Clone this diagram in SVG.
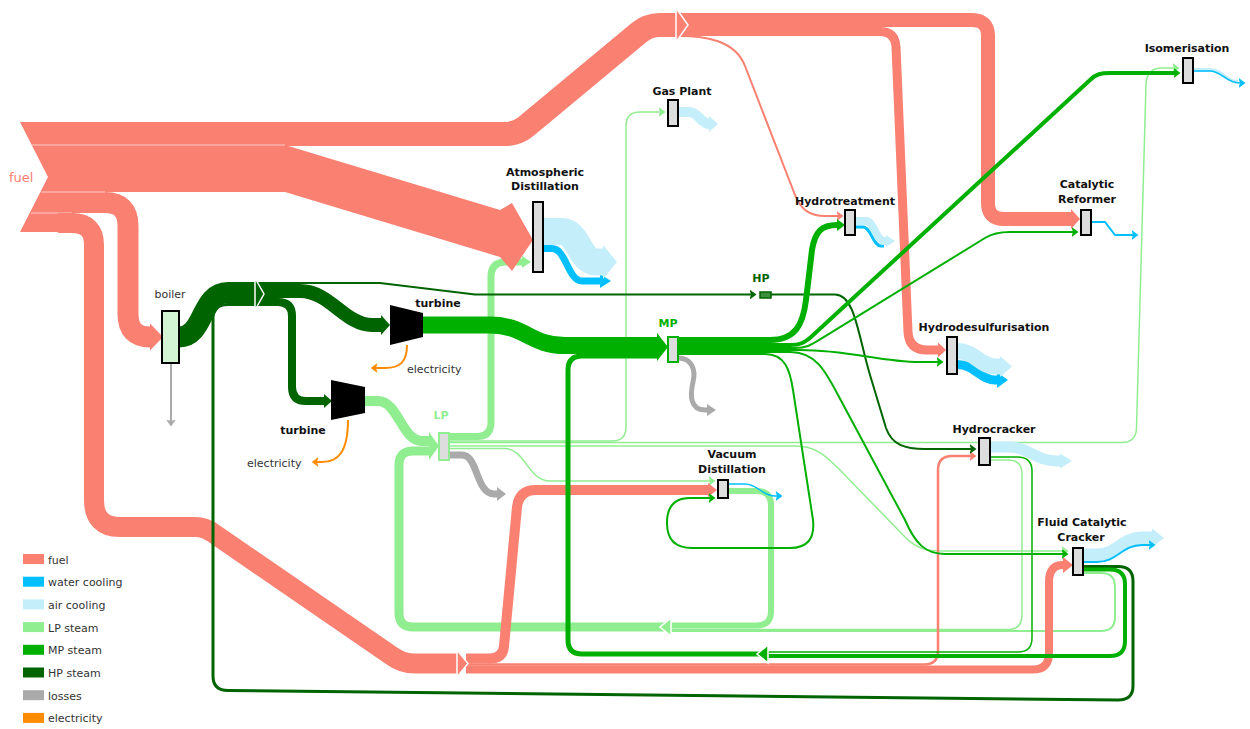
<svg xmlns="http://www.w3.org/2000/svg" width="1250" height="729" viewBox="0 0 1250 729">
<defs>
<style>
.f{fill:none}
.cfu{stroke:#fa8072}.cwa{stroke:#00bfff}.cai{stroke:#c5eefb}.clp{stroke:#90ee90}.cmp{stroke:#00b000}.chp{stroke:#006400}.clo{stroke:#aaaaaa}.cel{stroke:#ff8c00}
.pfu{fill:#fa8072}.pwa{fill:#00bfff}.pai{fill:#c5eefb}.plp{fill:#90ee90}.pmp{fill:#00b000}.php{fill:#006400}.plo{fill:#aaaaaa}
.jn{stroke:#fff;stroke-width:1.5}
.node{fill:#dddddd;stroke:#000;stroke-width:2}
.lbl{font-family:"DejaVu Sans","Liberation Sans",sans-serif;font-size:11px;font-weight:bold;fill:#111}
.txt{font-family:"DejaVu Sans","Liberation Sans",sans-serif;font-size:11px;fill:#333}
</style>
<marker id="m-fu" viewBox="0 0 7 10" refX="1.5" refY="5" markerWidth="7" markerHeight="10" markerUnits="userSpaceOnUse" orient="auto"><path d="M0,0 L7,5 L0,10 L1.5,5 Z" fill="#fa8072"/></marker>
<marker id="m-wa" viewBox="0 0 7 10" refX="1.5" refY="5" markerWidth="7" markerHeight="10" markerUnits="userSpaceOnUse" orient="auto"><path d="M0,0 L7,5 L0,10 L1.5,5 Z" fill="#00bfff"/></marker>
<marker id="m-lp" viewBox="0 0 7 10" refX="1.5" refY="5" markerWidth="7" markerHeight="10" markerUnits="userSpaceOnUse" orient="auto"><path d="M0,0 L7,5 L0,10 L1.5,5 Z" fill="#90ee90"/></marker>
<marker id="m-mp" viewBox="0 0 7 10" refX="1.5" refY="5" markerWidth="7" markerHeight="10" markerUnits="userSpaceOnUse" orient="auto"><path d="M0,0 L7,5 L0,10 L1.5,5 Z" fill="#00b000"/></marker>
<marker id="m-hp" viewBox="0 0 7 10" refX="1.5" refY="5" markerWidth="7" markerHeight="10" markerUnits="userSpaceOnUse" orient="auto"><path d="M0,0 L7,5 L0,10 L1.5,5 Z" fill="#006400"/></marker>
<marker id="m-lo" viewBox="0 0 7 10" refX="1.5" refY="5" markerWidth="7" markerHeight="10" markerUnits="userSpaceOnUse" orient="auto"><path d="M0,0 L7,5 L0,10 L1.5,5 Z" fill="#aaaaaa"/></marker>
<marker id="m-el" viewBox="0 0 7 10" refX="1.5" refY="5" markerWidth="7" markerHeight="10" markerUnits="userSpaceOnUse" orient="auto"><path d="M0,0 L7,5 L0,10 L1.5,5 Z" fill="#ff8c00"/></marker>
</defs>
<rect width="1250" height="729" fill="#ffffff"/>

<g id="node-fuel">
<polygon class="pfu" points="20,122 60,122 60,232 20,232 48,177"/>
<text x="9" y="182" font-family="DejaVu Sans, Liberation Sans, sans-serif" font-size="13" fill="#fa8072">fuel</text>
</g>

<g id="links">
<!-- LP return loops -->
<path class="f clp" stroke-width="9" d="M670,627 H413 Q399,627 399,613 V465 Q399,451 413,451 H431"/>
<path class="f clp" stroke-width="6" d="M728,491 H757 Q771,491 771,505 V611 Q771,625.5 757,625.5 H669"/>
<path class="f clp" stroke-width="1.5" d="M990,460 H1008 Q1022,460 1022,474 V615 Q1022,629.5 1008,629.5 H669"/>
<path class="f clp" stroke-width="2" d="M1083,573 H1101 Q1115,573 1115,587 V617 Q1115,631 1101,631 H669"/>
<polygon class="plp jn" points="671,618 660,627 671,636"/>
<!-- LP into LP header -->
<path class="f clp" stroke-width="10" d="M365,401 H378 C398,401 402,441 422,441 H431"/>
<polygon class="plp" points="429,432 439,446 429,460"/>
<!-- LP outputs -->
<path class="f clp" stroke-width="1.5" marker-end="url(#m-lp)" d="M449,441 H612 Q626,441 626,427 V126 Q626,112 640,112 H660"/>
<path class="f clp" stroke-width="1.5" marker-end="url(#m-lp)" d="M449,442.5 H1122 Q1136,442.5 1136.5,428 L1146,84 Q1147,68 1162,68 H1174"/>
<path class="f clp" stroke-width="1.5" marker-end="url(#m-lp)" d="M449,446 H795 C815,446 825,455 840,470 L905,537 C918,550 928,551 945,551 H1063"/>
<path class="f clp" stroke-width="1.5" marker-end="url(#m-lp)" d="M449,448.5 H505 C525,448.5 528,481 550,481 H710"/>
<path class="f clp" stroke-width="7" d="M449,436.5 H477 Q491,436.5 491,422 V277 Q491,262 506,262 H522"/>
<polygon class="plp" points="522,256 531,262 522,268"/>
<path class="f clo" stroke-width="7" d="M449,455 H462 C478,455 476,494 494,494 H497"/>
<polygon class="plo" points="497,487 506,494 497,501"/>

<!-- fuel -->
<path class="f cfu" stroke-width="24" d="M58,134 H505 Q517,134 526,126.5 L638.5,33 Q648,25 660,25 H679"/>
<path class="f cfu" stroke-width="14" d="M679,20 H972 Q988,20 988,36 V203 Q988,219 1004,219 H1071"/>
<polygon class="pfu" points="1071,209 1080,219 1071,229"/>
<path class="f cfu" stroke-width="9" d="M679,31.5 H880 Q895,31.5 896,47 L908,332 Q909,350 927,350 H938"/>
<polygon class="pfu" points="938,342.5 946,350 938,357.5"/>
<path class="f cfu" stroke-width="2" marker-end="url(#m-fu)" d="M679,36 C705,36 735,40 745,66 L795,195 C801,210 810,216 825,216 H838"/>
<polygon class="pfu jn" points="676,8 688,25 676,42"/>
<polygon class="pfu" points="58,145 285,145 500,210 512,203 533,240 512,271 500,257 285,192 58,192"/>
<path class="f cfu" stroke-width="21" d="M58,202.5 H105 Q128,202.5 128,226 V314 Q128,337 150,337"/>
<polygon class="pfu" points="150,323.5 163,337 150,350.5"/>
<line x1="32" y1="145" x2="285" y2="145" stroke="#fff" stroke-opacity="0.6" stroke-width="1"/>
<line x1="41" y1="192" x2="105" y2="192" stroke="#fff" stroke-opacity="0.6" stroke-width="1"/>
<line x1="31" y1="213" x2="72" y2="213" stroke="#fff" stroke-opacity="0.6" stroke-width="1"/>
<path class="f cfu" stroke-width="20" d="M58,223 H72 Q94,223 94,245 V500 Q94,527 120,527 H195 Q205,527 213,533 L392,656 Q402,663.5 415,663.5 H457"/>
<path class="f cfu" stroke-width="10" d="M466,658.5 H490 Q503,658.5 504,646 L517,507 Q519,490 536,490 H708"/>
<polygon class="pfu" points="708,483 717,490 708,497"/>
<path class="f cfu" stroke-width="2.5" marker-end="url(#m-fu)" d="M466,664.5 H924 Q938,664.5 938,651 V470 Q938,456 952,456 H971"/>
<path class="f cfu" stroke-width="8" d="M466,669.5 H1033 Q1049,669.5 1049,653 V582 Q1049,565 1063,565"/>
<polygon class="pfu" points="1063,557 1073,565 1063,573"/>
<polygon class="pfu jn" points="457,650 468,663.5 457,677"/>

<!-- HP steam -->
<path class="f chp" stroke-width="21" d="M179,337 C205,337 200,292.5 228,292.5 H256"/>
<path class="f chp" stroke-width="3" d="M1083,566.5 H1118 Q1133,566.5 1133,581 V686 Q1133,700 1118,700 L228,690.5 Q213,690.5 213,676 V318 Q213,304.5 228,304.5 H256"/>
<path class="f chp" stroke-width="2" marker-end="url(#m-hp)" d="M258,283 H380 L475,294.5 H751"/>
<path class="f chp" stroke-width="14" d="M258,291 H300 C330,291 345,325 372,325 H381"/>
<polygon class="php" points="381,315 390,325 381,335"/>
<path class="f chp" stroke-width="8" d="M258,302 H278 Q292,302 292,316 V387 Q292,401 306,401 H324"/>
<polygon class="php" points="324,394 332,401 324,408"/>
<polygon class="php jn" points="255,278 264,294 255,310"/>
<path class="f chp" stroke-width="2" marker-end="url(#m-hp)" d="M771,294.5 H835 C855,294.5 858,335 870,375 L886,428 C892,445 905,449 925,449 H971"/>

<!-- MP steam -->
<path class="f cmp" stroke-width="17" d="M423,325 H490 C525,325 530,345.5 565,345.5 H658"/>
<path class="f cmp" stroke-width="5" d="M767,654 H582 Q568,654 568,640 V370 Q568,356 582,356 H658"/>
<path class="f cmp" stroke-width="4" d="M1083,569.5 H1110 Q1125,569.5 1125,584 V641 Q1125,656 1110,656 H766"/>
<path class="f cmp" stroke-width="1.5" d="M990,457 H1017 Q1032,457 1032,471 V638 Q1032,652 1018,652 H766"/>
<polygon class="pmp jn" points="768,645 757,654 768,663"/>
<polygon class="pmp" points="657,333 668,347 657,361"/>
<path class="f cmp" stroke-width="6" d="M678,340 H770 C795,340 803,325 806,300 L812,250 C815,231 822,225 837,225"/>
<polygon class="pmp" points="837,219 845,225 837,231"/>
<path class="f cmp" stroke-width="4" marker-end="url(#m-mp)" d="M678,345 H790 C800,345 804,343 811,337 L1090,80 C1096,74 1101,73 1110,73 H1175"/>
<path class="f cmp" stroke-width="2" marker-end="url(#m-mp)" d="M678,348 H795 C806,348 811,345 818,340.7 L985,238 C993,233 1000,232 1010,232 H1073"/>
<path class="f cmp" stroke-width="2" marker-end="url(#m-mp)" d="M678,350 H800 C850,350 880,362 920,362 H938"/>
<path class="f cmp" stroke-width="2" marker-end="url(#m-mp)" d="M678,352 H790 C815,352 825,370 838,395 L905,520 C915,543 925,554 945,554 H1063"/>
<path class="f cmp" stroke-width="2" marker-end="url(#m-mp)" d="M678,354 H765 C785,354 790,370 793,390 L813,520 Q816,548 790,548 H692 Q667,548 667,523 Q667,498 690,498 H710"/>
<path class="f clo" stroke-width="5" d="M678,358 C692,358 696,370 693,382 C690,395 690,410 705,410 H708"/>
<polygon class="plo" points="707,404 716,410 707,416"/>

<!-- cooling outputs -->
<path class="f cwa" stroke-width="7" d="M543,248.5 H552 C566,248.5 568,281 582,281 H600"/>
<polygon class="pwa" points="600,274 611,281 600,288"/>
<path class="f cai" stroke-width="27" d="M543,231.5 H562 C578,231.5 580,262 596,262 H603"/>
<polygon class="pai" points="603,245 617,262 603,279"/>
<path class="f cai" stroke-width="10" d="M678,112 H689 C699,112 700,124 710,124"/>
<polygon class="pai" points="709,116 718,124 709,132"/>
<path class="f cwa" stroke-width="3" d="M855,227 H863 C871,227 873,246 881,246 H884"/>
<path class="f cai" stroke-width="8" d="M855,221 H866 C874,221 876,241 884,241 H886"/>
<polygon class="pai" points="886,235 895,241 886,247"/>
<path class="f cwa" stroke-width="2" marker-end="url(#m-wa)" d="M1091,222 H1105 L1115,235 H1133"/>
<path class="f cai" stroke-width="4" d="M1193,70 H1210 C1222,70 1226,82 1238,82"/>
<path class="f cwa" stroke-width="1.5" marker-end="url(#m-wa)" d="M1193,71 H1210 C1222,71 1226,83 1240,83"/>
<path class="f cwa" stroke-width="9" d="M957,364.5 C975,364.5 980,380 995,380 H997"/>
<polygon class="pwa" points="997,372 1008,380 997,388"/>
<path class="f cai" stroke-width="16" d="M957,351 C975,351 980,366.5 995,366.5 H1000"/>
<polygon class="pai" points="1000,356 1012,366.5 1000,377"/>
<path class="f cai" stroke-width="11" d="M990,447 H1008 C1030,447 1035,461 1057,461 H1060"/>
<polygon class="pai" points="1060,453.5 1072,461 1060,468.5"/>
<path class="f cai" stroke-width="13" d="M1083,555 H1097 C1117,555 1122,538 1142,538 H1152"/>
<polygon class="pai" points="1152,528.5 1164,538 1152,547.5"/>
<path class="f cwa" stroke-width="2" marker-end="url(#m-wa)" d="M1083,562 H1097 C1117,562 1122,545 1142,545 H1150"/>
<path class="f cwa" stroke-width="1.5" marker-end="url(#m-wa)" d="M728,484 H745 C758,484 762,496 775,496 H777"/>
<!-- losses and electricity -->
<path class="f clo" stroke-width="2" marker-end="url(#m-lo)" d="M171,364 V421"/>
<path class="f cel" stroke-width="2" marker-end="url(#m-el)" d="M407,345 C407,362 400,368 385,368 H376"/>
<path class="f cel" stroke-width="2" marker-end="url(#m-el)" d="M348,420 C348,452 338,462 322,462 H317"/>
</g>

<g id="node-boiler">
<rect x="162" y="311" width="17" height="52" fill="#d4f5d4" stroke="#000" stroke-width="2"/>
<text class="txt" x="170" y="298" text-anchor="middle">boiler</text>
</g>
<g id="node-turbine1">
<polygon points="390,305 423,313 423,337 390,345" fill="#000"/>
<text class="lbl" x="438" y="307" text-anchor="middle">turbine</text>
<text class="txt" x="407" y="373">electricity</text>
</g>
<g id="node-turbine2">
<polygon points="331,380 365,387 365,413 331,420" fill="#000"/>
<text class="lbl" x="303" y="434" text-anchor="middle">turbine</text>
<text class="txt" x="247" y="467">electricity</text>
</g>
<g id="node-lp">
<rect x="439" y="433" width="10" height="27" fill="#dddddd" stroke="#90ee90" stroke-width="2"/>
<text class="lbl" x="441" y="419" text-anchor="middle" fill="#90ee90" style="fill:#90ee90">LP</text>
</g>
<g id="node-mp">
<rect x="668" y="337" width="10" height="25" fill="#dddddd" stroke="#00b000" stroke-width="2"/>
<text class="lbl" x="668" y="327" text-anchor="middle" style="fill:#00b000">MP</text>
</g>
<g id="node-hp">
<rect x="760" y="292" width="11" height="6" fill="#3d8f3d" stroke="#006400" stroke-width="1.5"/>
<text class="lbl" x="761" y="282" text-anchor="middle" style="fill:#006400">HP</text>
</g>
<g id="node-atmospheric-distillation">
<rect class="node" x="533" y="202" width="10" height="70"/>
<text class="lbl" x="545" y="176" text-anchor="middle">Atmospheric</text>
<text class="lbl" x="545" y="190" text-anchor="middle">Distillation</text>
</g>
<g id="node-gas-plant">
<rect class="node" x="668" y="100" width="10" height="26"/>
<text class="lbl" x="682" y="95" text-anchor="middle">Gas Plant</text>
</g>
<g id="node-hydrotreatment">
<rect class="node" x="845" y="210" width="10" height="25"/>
<text class="lbl" x="845" y="205" text-anchor="middle">Hydrotreatment</text>
</g>
<g id="node-catalytic-reformer">
<rect class="node" x="1081" y="210" width="10" height="25"/>
<text class="lbl" x="1087" y="188" text-anchor="middle">Catalytic</text>
<text class="lbl" x="1087" y="203" text-anchor="middle">Reformer</text>
</g>
<g id="node-isomerisation">
<rect class="node" x="1183" y="58" width="10" height="25"/>
<text class="lbl" x="1187" y="52" text-anchor="middle">Isomerisation</text>
</g>
<g id="node-hydrodesulfurisation">
<rect class="node" x="947" y="337" width="10" height="37"/>
<text class="lbl" x="984" y="331" text-anchor="middle">Hydrodesulfurisation</text>
</g>
<g id="node-hydrocracker">
<rect class="node" x="979" y="438" width="11" height="27"/>
<text class="lbl" x="994" y="433" text-anchor="middle">Hydrocracker</text>
</g>
<g id="node-fluid-catalytic-cracker">
<rect class="node" x="1073" y="548" width="10" height="27"/>
<text class="lbl" x="1082" y="526" text-anchor="middle">Fluid Catalytic</text>
<text class="lbl" x="1081" y="541" text-anchor="middle">Cracker</text>
</g>
<g id="node-vacuum-distillation">
<rect class="node" x="718" y="480" width="10" height="18"/>
<text class="lbl" x="732" y="458" text-anchor="middle">Vacuum</text>
<text class="lbl" x="732" y="473" text-anchor="middle">Distillation</text>
</g>

<g id="legend">
<rect x="23" y="554" width="21" height="10" fill="#fa8072"/><text class="txt" x="48" y="563.5">fuel</text>
<rect x="23" y="576.7" width="21" height="10" fill="#00bfff"/><text class="txt" x="48" y="586.2">water cooling</text>
<rect x="23" y="599.4" width="21" height="10" fill="#c5eefb"/><text class="txt" x="48" y="608.9">air cooling</text>
<rect x="23" y="622.1" width="21" height="10" fill="#90ee90"/><text class="txt" x="48" y="631.6">LP steam</text>
<rect x="23" y="644.8" width="21" height="10" fill="#00b000"/><text class="txt" x="48" y="654.3">MP steam</text>
<rect x="23" y="667.5" width="21" height="10" fill="#006400"/><text class="txt" x="48" y="677">HP steam</text>
<rect x="23" y="690.2" width="21" height="10" fill="#aaaaaa"/><text class="txt" x="48" y="699.7">losses</text>
<rect x="23" y="712.9" width="21" height="10" fill="#ff8c00"/><text class="txt" x="48" y="722.4">electricity</text>
</g>
</svg>
